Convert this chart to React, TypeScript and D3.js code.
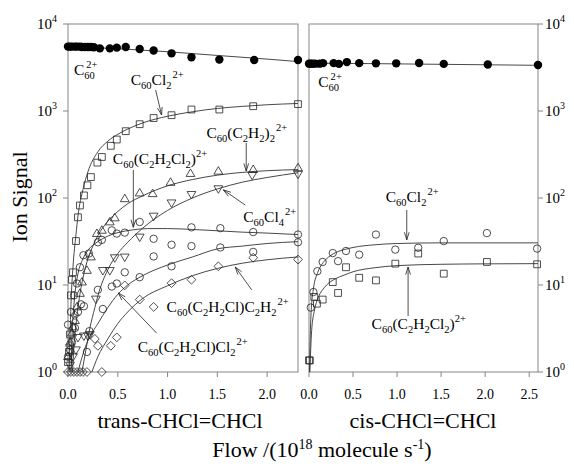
import React from "react";
import * as d3 from "d3";

// values: flow in 10^18 molecule s^-1, ion signal (log axis)

// ---- trans-CHCl=CHCl panel: measured points ----
const transC60Flow = [0, 0.02, 0.04, 0.07, 0.09, 0.12, 0.14, 0.17, 0.2, 0.23, 0.26, 0.32, 0.42, 0.49, 0.58, 0.72, 0.86, 1.04, 1.24, 1.52, 1.87, 2.31];
const transC60 = [5500, 5500, 5500, 5500, 5500, 5500, 5450, 5450, 5450, 5450, 5400, 5250, 5250, 5350, 5450, 5150, 4950, 4600, 4150, 3900, 3850, 3850];

const transCl2Flow = [0, 0.01, 0.02, 0.03, 0.04, 0.05, 0.08, 0.1, 0.12, 0.16, 0.195, 0.23, 0.295, 0.34, 0.43, 0.49, 0.58, 0.72, 0.86, 1.04, 1.24, 1.52, 1.86, 2.31];
const transCl2 = [1.3, 1.7, 2.7, 7.6, 11.5, 14, 32, 60, 82, 107, 140, 174, 255, 296, 398, 470, 586, 705, 830, 895, 1040, 1040, 1135, 1200];

const transC2H2Flow = [0, 0.02, 0.04, 0.05, 0.07, 0.09, 0.12, 0.14, 0.19, 0.23, 0.29, 0.34, 0.42, 0.47, 0.57, 0.72, 0.85, 1.03, 1.23, 1.51, 1.86, 2.31];
const transC2H2 = [1.5, 2.2, 2.8, 3.3, 3.9, 5.6, 8, 10.8, 14.7, 21, 39, 42.5, 53, 59, 98, 114, 112, 151, 191, 203, 212, 222];

const transCl4Flow = [0.02, 0.05, 0.08, 0.1, 0.16, 0.2, 0.22, 0.28, 0.35, 0.42, 0.47, 0.57, 0.72, 0.86, 1.04, 1.24, 1.51, 1.85, 2.31];
const transCl4 = [1.2, 1.5, 1.8, 2.5, 2.6, 2.6, 2.7, 6.9, 14.7, 14.7, 20.6, 21, 35.6, 62, 88, 110, 128, 183, 188];

const transC2H2Cl2Flow = [0, 0.03, 0.06, 0.09, 0.12, 0.155, 0.21, 0.3, 0.34, 0.44, 0.49, 0.57, 0.72, 0.86, 1.04, 1.24, 1.53, 1.86, 2.31];
const transC2H2Cl2 = [3.5, 4.9, 7.6, 10.4, 16, 22, 23, 31, 33, 42.5, 39, 40, 53, 34, 29, 46, 45, 40.6, 38];

const transClCl2Flow = [0, 0.02, 0.04, 0.07, 0.1, 0.13, 0.16, 0.19, 0.215, 0.3, 0.35, 0.44, 0.49, 0.57, 0.72, 0.86, 1.04, 1.24, 1.53, 1.86, 2.31];
const transClCl2 = [1.5, 1.8, 2.2, 3.2, 4.9, 6, 5.7, 1.7, 2.95, 8.8, 5.3, 9.6, 10.4, 14, 12.3, 21.3, 16.4, 28, 27, 24, 31];

const transClC2H2Flow = [0, 0.02, 0.03, 0.06, 0.07, 0.09, 0.12, 0.15, 0.19, 0.27, 0.3, 0.34, 0.43, 0.49, 0.57, 0.72, 0.86, 1.04, 1.24, 1.51, 1.86, 2.31];
const transClC2H2 = [1, 2, 1, 1, 4.5, 1, 1, 1, 1, 2.4, 2.0, 1.0, 2.0, 2.5, 9.9, 6.8, 5.6, 10.5, 11.5, 16.4, 20.6, 19.6];

// ---- trans panel: fitted curves ----
const transC60FitFlow = [0, 0.5, 1.0, 1.5, 2.0, 2.31];
const transC60Fit = [5550, 5200, 4800, 4350, 3950, 3700];
const transCl2FitFlow = [0.012, 0.02, 0.03, 0.05, 0.08, 0.1, 0.15, 0.2, 0.3, 0.4, 0.5, 0.6, 0.75, 1.0, 1.25, 1.5, 1.75, 2.0, 2.31];
const transCl2Fit = [1, 2.5, 6, 16, 38, 62, 125, 200, 340, 450, 540, 620, 730, 870, 980, 1070, 1130, 1180, 1220];
const transC2H2FitFlow = [0.045, 0.06, 0.08, 0.1, 0.15, 0.2, 0.25, 0.3, 0.4, 0.5, 0.6, 0.75, 1.0, 1.25, 1.5, 1.75, 2.0, 2.31];
const transC2H2Fit = [1, 2, 3.5, 5.5, 12, 20, 28, 37, 54, 70, 86, 106, 138, 163, 183, 197, 206, 212];
const transCl4FitFlow = [0.14, 0.18, 0.22, 0.27, 0.3, 0.4, 0.5, 0.6, 0.75, 1.0, 1.25, 1.5, 1.75, 2.0, 2.31];
const transCl4Fit = [1, 1.8, 3.2, 5.5, 7.5, 15, 23, 31, 45, 72, 100, 127, 152, 172, 195];
const transC2H2Cl2FitFlow = [0.03, 0.04, 0.06, 0.08, 0.1, 0.15, 0.2, 0.3, 0.4, 0.5, 0.65, 0.8, 1.0, 1.25, 1.5, 1.75, 2.0, 2.31];
const transC2H2Cl2Fit = [1, 2.5, 6, 10, 13.5, 20, 25, 31.5, 36.5, 40, 43, 44.5, 44.5, 43.5, 42, 40.5, 39.5, 38];
const transClCl2FitFlow = [0.1, 0.15, 0.2, 0.3, 0.4, 0.5, 0.6, 0.75, 1.0, 1.25, 1.5, 1.75, 2.0, 2.31];
const transClCl2Fit = [1, 1.6, 2.3, 3.6, 5.5, 7.8, 10, 12.8, 17, 21, 26, 28, 30, 31.5];
const transClC2H2FitFlow = [0.24, 0.3, 0.4, 0.5, 0.6, 0.75, 1.0, 1.25, 1.5, 1.75, 2.0, 2.31];
const transClC2H2Fit = [1, 1.5, 2.4, 3.6, 4.9, 7, 9.8, 12.8, 15.5, 17.8, 19.5, 21];

// ---- cis-CHCl=CHCl panel ----
const cisC60Flow = [0, 0.02, 0.04, 0.07, 0.12, 0.16, 0.28, 0.34, 0.43, 0.57, 0.76, 0.99, 1.25, 1.53, 2.03, 2.6];
const cisC60 = [3500, 3500, 3500, 3500, 3500, 3550, 3550, 3480, 3650, 3550, 3530, 3530, 3560, 3480, 3420, 3380];
const cisCl2Flow = [0.02, 0.05, 0.095, 0.155, 0.27, 0.33, 0.42, 0.57, 0.76, 0.98, 1.24, 1.53, 2.02, 2.59];
const cisCl2 = [5.5, 8.3, 14.4, 18.4, 23.3, 18.8, 24.6, 22.3, 38, 25.5, 26.8, 32, 39.5, 26.2];
const cisC2H2Cl2Flow = [0, 0.01, 0.06, 0.09, 0.155, 0.27, 0.33, 0.42, 0.57, 0.76, 0.98, 1.24, 1.53, 2.02, 2.59];
const cisC2H2Cl2 = [1.36, 1.36, 7.3, 6.1, 6.8, 10.8, 8.1, 16, 12.1, 11.3, 17.6, 23, 13.5, 18.4, 17.3];

const cisC60FitFlow = [0, 0.5, 1.0, 1.5, 2.0, 2.6];
const cisC60Fit = [3550, 3520, 3480, 3440, 3400, 3350];
const cisCl2FitFlow = [0.005, 0.02, 0.05, 0.1, 0.15, 0.2, 0.3, 0.4, 0.5, 0.75, 1.0, 1.5, 2.0, 2.6];
const cisCl2Fit = [1, 4, 9, 14, 17.5, 20, 23.5, 25.5, 27, 29, 30, 30.5, 30.5, 30.5];
const cisC2H2Cl2FitFlow = [0.01, 0.03, 0.06, 0.1, 0.15, 0.2, 0.3, 0.4, 0.5, 0.75, 1.0, 1.5, 2.0, 2.6];
const cisC2H2Cl2Fit = [1, 3, 5, 7, 8.7, 10, 11.8, 13, 14.2, 15.8, 16.7, 17.3, 17.5, 17.6];

// ---- ticks ----
const yTicks = [1, 10, 100, 1000, 10000];
const yTickExp = ["0", "1", "2", "3", "4"];
const transTicks = [0, 0.5, 1.0, 1.5, 2.0];
const cisTicks = [0, 0.5, 1.0, 1.5, 2.0, 2.5];

// ---- annotations: [text, kind(n|b|p), dx] ----
type Seg = [string, string, number?];
const lblC60: Seg[] = [["C", "n"], ["60", "b"], ["2+", "p", -8.5]];
const lblCl2: Seg[] = [["C", "n"], ["60", "b"], ["Cl", "n"], ["2", "b"], ["2+", "p", 1]];
const lblC2H2: Seg[] = [["C", "n"], ["60", "b"], ["(C", "n"], ["2", "b"], ["H", "n"], ["2", "b"], [")", "n"], ["2", "b"], ["2+", "p", 1]];
const lblC2H2Cl2: Seg[] = [["C", "n"], ["60", "b"], ["(C", "n"], ["2", "b"], ["H", "n"], ["2", "b"], ["Cl", "n"], ["2", "b"], [")", "n"], ["2+", "p"]];
const lblCl4: Seg[] = [["C", "n"], ["60", "b"], ["Cl", "n"], ["4", "b"], ["2+", "p", 1]];
const lblClC2H2: Seg[] = [["C", "n"], ["60", "b"], ["(C", "n"], ["2", "b"], ["H", "n"], ["2", "b"], ["Cl)C", "n"], ["2", "b"], ["H", "n"], ["2", "b"], ["2+", "p", 1]];
const lblClCl2: Seg[] = [["C", "n"], ["60", "b"], ["(C", "n"], ["2", "b"], ["H", "n"], ["2", "b"], ["Cl)Cl", "n"], ["2", "b"], ["2+", "p", 1]];

const FONT = "'Liberation Serif', 'Times New Roman', Times, serif";
const TOP = 24;
const BOTTOM = 372;
const FRAME = "#858585";

const yScale = d3.scaleLog().domain([1, 10000]).range([BOTTOM, TOP]);
const xTrans = d3.scaleLinear().domain([0, 2.31]).range([68, 298]);
const xCis = d3.scaleLinear().domain([0, 2.6]).range([309, 538]);

const markerPath: Record<string, string> = {
  square: "M-3.4,-3.4H3.4V3.4H-3.4Z",
  up: "M0,-4.6L4.4,2.9H-4.4Z",
  down: "M0,4.6L4.4,-2.9H-4.4Z",
  diamond: "M0,-4.4L4.4,0L0,4.4L-4.4,0Z",
};

const zip = (a: number[], b: number[]) => a.map((v, i) => [v, b[i]] as [number, number]);

const transSeries = [
  { pts: zip(transC60Flow, transC60), fit: zip(transC60FitFlow, transC60Fit), m: "dot" },
  { pts: zip(transCl2Flow, transCl2), fit: zip(transCl2FitFlow, transCl2Fit), m: "square" },
  { pts: zip(transC2H2Flow, transC2H2), fit: zip(transC2H2FitFlow, transC2H2Fit), m: "up" },
  { pts: zip(transCl4Flow, transCl4), fit: zip(transCl4FitFlow, transCl4Fit), m: "down" },
  { pts: zip(transC2H2Cl2Flow, transC2H2Cl2), fit: zip(transC2H2Cl2FitFlow, transC2H2Cl2Fit), m: "circle" },
  { pts: zip(transClCl2Flow, transClCl2), fit: zip(transClCl2FitFlow, transClCl2Fit), m: "circle" },
  { pts: zip(transClC2H2Flow, transClC2H2), fit: zip(transClC2H2FitFlow, transClC2H2Fit), m: "diamond" },
];

const cisSeries = [
  { pts: zip(cisC60Flow, cisC60), fit: zip(cisC60FitFlow, cisC60Fit), m: "dot" },
  { pts: zip(cisCl2Flow, cisCl2), fit: zip(cisCl2FitFlow, cisCl2Fit), m: "circle" },
  { pts: zip(cisC2H2Cl2Flow, cisC2H2Cl2), fit: zip(cisC2H2Cl2FitFlow, cisC2H2Cl2Fit), m: "square" },
];

// label position (flow, signal) at text start/baseline; arrows from -> to in data units
const transLabels = [
  { segs: lblC60, at: [0.06, 2600] },
  { segs: lblCl2, at: [0.63, 2000], from: [0.88, 1740], to: [0.94, 900] },
  { segs: lblC2H2, at: [1.39, 490], from: [1.79, 430], to: [1.79, 204] },
  { segs: lblC2H2Cl2, at: [0.45, 246], from: [0.656, 210], to: [0.656, 46] },
  { segs: lblCl4, at: [1.76, 53], from: [1.78, 83], to: [1.56, 124] },
  { segs: lblClC2H2, at: [0.99, 4.9], from: [1.845, 8.8], to: [1.68, 16.1] },
  { segs: lblClCl2, at: [0.7, 1.7], from: [0.89, 2.8], to: [0.505, 8.1] },
];
const cisLabels = [
  { segs: lblC60, at: [0.105, 1890] },
  { segs: lblCl2, at: [0.87, 90], from: [1.11, 73], to: [1.11, 33] },
  { segs: lblC2H2Cl2, at: [0.71, 3.1], from: [1.125, 4.4], to: [1.125, 16.1] },
];

function Chem({ x, y, segs, size = 15.5 }: { x: number; y: number; segs: Seg[]; size?: number }) {
  let cur = 0;
  return (
    <text x={x} y={y} fontSize={size} fill="#000">
      {segs.map(([t, k, dx], i) => {
        const target = k === "b" ? 4 : k === "p" ? -7 : 0;
        const dy = target - cur;
        cur = target;
        return (
          <tspan key={i} dy={dy} dx={dx || 0} fontSize={k === "n" ? size : size * 0.68}>
            {t}
          </tspan>
        );
      })}
    </text>
  );
}

function Arrow({ x1, y1, x2, y2 }: { x1: number; y1: number; x2: number; y2: number }) {
  const a = Math.atan2(y2 - y1, x2 - x1);
  const L = 8;
  const s = 0.3;
  const p1 = [x2 - L * Math.cos(a - s), y2 - L * Math.sin(a - s)];
  const p2 = [x2 - L * Math.cos(a + s), y2 - L * Math.sin(a + s)];
  return (
    <path
      d={`M${x1},${y1}L${x2},${y2}M${p1[0]},${p1[1]}L${x2},${y2}L${p2[0]},${p2[1]}`}
      fill="none"
      stroke="#222"
      strokeWidth={0.8}
    />
  );
}

function Marker({ m, x, y }: { m: string; x: number; y: number }) {
  if (m === "dot") return <circle cx={x} cy={y} r={4.2} fill="#000" />;
  if (m === "circle") return <circle cx={x} cy={y} r={3.7} fill="none" stroke="#222" strokeWidth={0.8} />;
  return <path transform={`translate(${x},${y})`} d={markerPath[m]} fill="none" stroke="#222" strokeWidth={0.8} />;
}

function Panel({ x, ticks, series, labels, axisSide }: any) {
  const [x0, x1] = x.range();
  const line = d3
    .line<[number, number]>()
    .x((d) => x(d[0]))
    .y((d) => yScale(d[1]))
    .curve(d3.curveMonotoneX);
  const ax = axisSide === "left" ? x0 : x1;
  const dir = axisSide === "left" ? -1 : 1;
  return (
    <g>
      <rect x={x0} y={TOP} width={x1 - x0} height={BOTTOM - TOP} fill="none" stroke={FRAME} strokeWidth={1} />
      {ticks.map((t: number) => (
        <g key={t}>
          <line x1={x(t)} x2={x(t)} y1={BOTTOM} y2={BOTTOM + 5} stroke={FRAME} />
          <text x={x(t)} y={399} textAnchor="middle" fontSize={14}>
            {t.toFixed(1)}
          </text>
        </g>
      ))}
      {yTicks.map((v, i) => (
        <g key={v}>
          <line x1={ax} x2={ax + dir * 5} y1={yScale(v)} y2={yScale(v)} stroke={FRAME} />
          <text
            x={axisSide === "left" ? 57 : 545}
            y={yScale(v) + 5}
            textAnchor={axisSide === "left" ? "end" : "start"}
            fontSize={15}
          >
            10
            <tspan dy={-7} fontSize={10}>
              {yTickExp[i]}
            </tspan>
          </text>
        </g>
      ))}
      {series.map((s: any, i: number) => (
        <path key={"f" + i} d={line(s.fit) || ""} fill="none" stroke="#333" strokeWidth={0.9} />
      ))}
      {series.map((s: any, i: number) => (
        <g key={"s" + i}>
          {s.pts.map((p: [number, number], j: number) => (
            <Marker key={j} m={s.m} x={x(p[0])} y={yScale(p[1])} />
          ))}
        </g>
      ))}
      {labels.map((l: any, i: number) => (
        <g key={"l" + i}>
          <Chem x={x(l.at[0])} y={yScale(l.at[1])} segs={l.segs} />
          {l.from && <Arrow x1={x(l.from[0])} y1={yScale(l.from[1])} x2={x(l.to[0])} y2={yScale(l.to[1])} />}
        </g>
      ))}
    </g>
  );
}

export default function App() {
  return (
    <svg
      width={574}
      height={464}
      viewBox="0 0 574 464"
      style={{ position: "absolute", left: 0, top: 0, background: "#fff" }}
      fontFamily={FONT}
    >
      <Panel x={xTrans} ticks={transTicks} series={transSeries} labels={transLabels} axisSide="left" />
      <Panel x={xCis} ticks={cisTicks} series={cisSeries} labels={cisLabels} axisSide="right" />
      <text x={180} y={428} textAnchor="middle" fontSize={22}>
        trans-CHCl=CHCl
      </text>
      <text x={423} y={428} textAnchor="middle" fontSize={22}>
        cis-CHCl=CHCl
      </text>
      <text x={322} y={457} textAnchor="middle" fontSize={22}>
        Flow /(10
        <tspan dy={-8} fontSize={14}>18</tspan>
        <tspan dy={8}> molecule s</tspan>
        <tspan dy={-8} fontSize={14}>-1</tspan>
        <tspan dy={8}>)</tspan>
      </text>
      <text transform="translate(27,197) rotate(-90)" textAnchor="middle" fontSize={22}>
        Ion Signal
      </text>
    </svg>
  );
}
